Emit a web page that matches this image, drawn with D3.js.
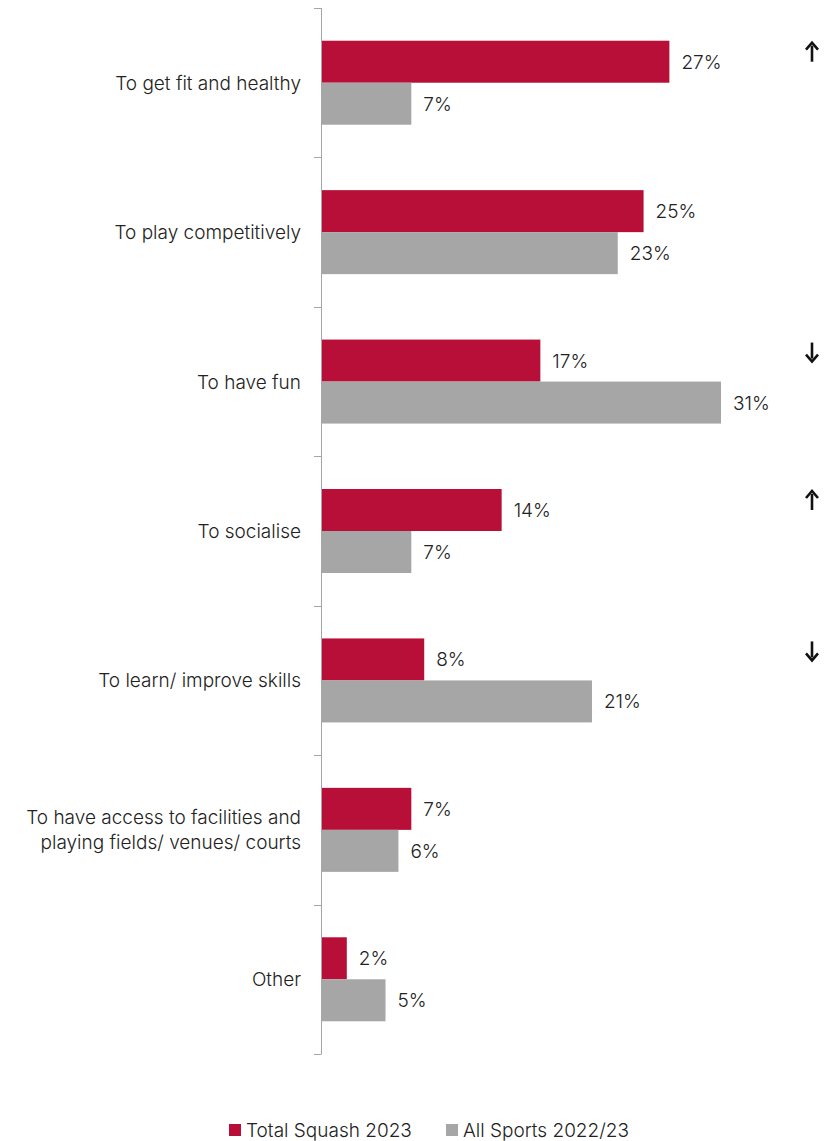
<!DOCTYPE html>
<html>
<head>
<meta charset="utf-8">
<script src="https://cdn.jsdelivr.net/npm/d3@7"></script>
<style>
  html, body { margin: 0; padding: 0; background: #fff; }
  svg { display: block; font-family: Inter, Roboto, "Noto Sans", sans-serif; font-weight: 300; }
</style>
</head>
<body>
<svg id="chart" width="831" height="1141"></svg>
<script>
// Reasons for playing: squash players vs. all sports
const categories = [
  ["To get fit and healthy"],
  ["To play competitively"],
  ["To have fun"],
  ["To socialise"],
  ["To learn/ improve skills"],
  ["To have access to facilities and", "playing fields/ venues/ courts"],
  ["Other"]
];
const squash2023 = [27, 25, 17, 14, 8, 7, 2];
const allSports = [7, 23, 31, 7, 21, 6, 5];
const seriesNames = ["Total Squash 2023", "All Sports 2022/23"];
// Significant-difference markers (index of category, direction)
const sigIndex = [0, 2, 3, 4];
const sigDir = ["up", "down", "up", "down"];

const colors = ["#B70F37", "#A6A6A6"];
const textColor = "#222222";
const fontSize = 19;

const svg = d3.select("#chart");

const y = d3.scaleBand()
  .domain(d3.range(categories.length))
  .range([8, 1054])
  .padding(0);

const x = d3.scaleLinear()
  .domain([0, 31])
  .range([321, 721]);

const barH = 42;

// Category axis with outer ticks between bands
const axisG = svg.append("g");
axisG.append("line")
  .attr("x1", x(0) + 0.5).attr("x2", x(0) + 0.5)
  .attr("y1", y.range()[0]).attr("y2", y.range()[1])
  .attr("stroke", "#A6A6A6").attr("stroke-width", 1);
const tickYs = d3.range(categories.length + 1).map(i => y.range()[0] + i * y.step());
axisG.selectAll("line.tick").data(tickYs).join("line")
  .attr("class", "tick")
  .attr("x1", x(0) - 7).attr("x2", x(0) + 0.5)
  .attr("y1", d => Math.round(d) + 0.5).attr("y2", d => Math.round(d) + 0.5)
  .attr("stroke", "#A6A6A6").attr("stroke-width", 1);

// Category labels
const labels = svg.append("g").selectAll("text").data(categories).join("text")
  .attr("x", 301)
  .attr("y", (d, i) => y(i) + y.bandwidth() / 2)
  .attr("text-anchor", "end")
  .attr("fill", textColor)
  .attr("font-size", fontSize);
labels.each(function(lines) {
  const t = d3.select(this);
  const lh = 25;
  lines.forEach((ln, k) => {
    t.append("tspan")
      .attr("x", 301)
      .attr("dy", k === 0 ? (-(lines.length - 1) * lh / 2 + 7) : lh)
      .text(ln);
  });
});

// Bars
const series = [squash2023, allSports];
series.forEach((vals, s) => {
  const g = svg.append("g");
  g.selectAll("rect").data(vals).join("rect")
    .attr("x", x(0) + 1)
    .attr("y", (d, i) => y(i) + y.bandwidth() / 2 - barH + s * barH)
    .attr("width", d => x(d) - x(0) - 1)
    .attr("height", barH)
    .attr("fill", colors[s]);
  g.selectAll("text").data(vals).join("text")
    .attr("x", d => x(d) + 12)
    .attr("y", (d, i) => y(i) + y.bandwidth() / 2 - barH / 2 + s * barH + 7)
    .attr("fill", textColor)
    .attr("font-size", fontSize)
    .text(d => d + "%");
});

// Direction arrows
const arrowX = 812;
const arrows = svg.append("g");
sigIndex.forEach((ci, k) => {
  const cy = y(ci) + y.bandwidth() / 2 - barH / 2 - 9;
  const up = sigDir[k] === "up";
  const s = up ? -1 : 1;
  const g = arrows.append("g").attr("transform", `translate(${arrowX},${cy})`);
  g.append("line")
    .attr("x1", 0).attr("x2", 0)
    .attr("y1", -9 * s).attr("y2", 7 * s)
    .attr("stroke", "#111").attr("stroke-width", 2.6);
  g.append("path")
    .attr("d", `M-6,${3 * s} L0,${10 * s} L6,${3 * s}`)
    .attr("fill", "none").attr("stroke", "#111").attr("stroke-width", 2.6)
    .attr("stroke-linejoin", "miter");
});

// Legend
const legend = svg.append("g");
const legendItems = [{ x: 229 }, { x: 446 }];
seriesNames.forEach((name, i) => {
  const lg = legend.append("g").attr("transform", `translate(${legendItems[i].x},1124)`);
  lg.append("rect").attr("width", 12).attr("height", 12).attr("fill", colors[i]);
  lg.append("text").attr("x", 17).attr("y", 13)
    .attr("fill", textColor).attr("font-size", fontSize)
    .text(name);
});
</script>
</body>
</html>
